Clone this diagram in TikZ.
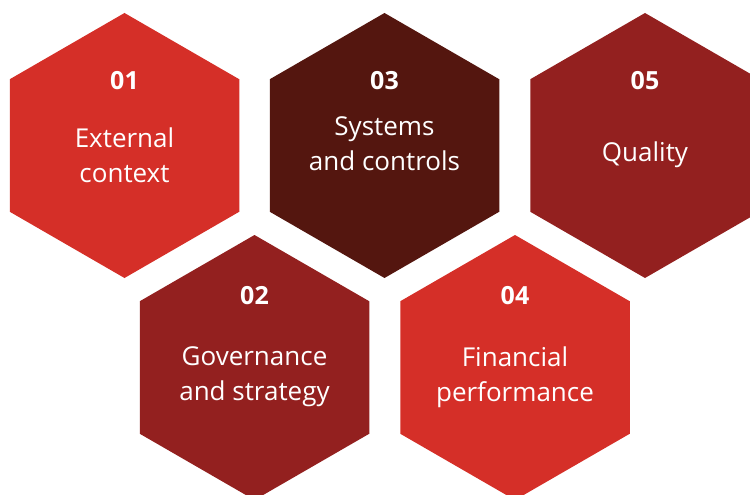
\documentclass[tikz,border=0pt]{standalone}
\usepackage{fontspec}
\setmainfont{Open Sans}
\usetikzlibrary{shapes.geometric}
\definecolor{hexred}{HTML}{D52F28}
\definecolor{hexdark}{HTML}{54160F}
\definecolor{hexwine}{HTML}{93201F}
\tikzset{
  hexcell/.style={regular polygon, regular polygon sides=6, shape border rotate=30,
    minimum size=265pt, inner sep=0pt, outer sep=0pt, fill=#1},
  hexnum/.style={text=white, font=\fontsize{25}{30}\selectfont\bfseries},
  hextext/.style={text=white, align=center, font=\fontsize{26}{35}\selectfont},
}
\begin{document}
\begin{tikzpicture}[x=1pt,y=-1pt]
        \useasboundingbox (0,0) rectangle (750,495);
        \clip (0,0) rectangle (750,495);
        % Fila superior
        \node[hexcell=hexred] (hexA) at (124.5,145.5) {};
        \node[hexnum] (numA) at (124.5,81) {01};
        \node[hextext] (txtA) at (124.5,155) {External\\context};

        \node[hexcell=hexdark] (hexC) at (384.5,145.5) {};
        \node[hexnum] (numC) at (384.5,81) {03};
        \node[hextext] (txtC) at (384.5,144) {Systems\\and controls};

        \node[hexcell=hexwine] (hexE) at (645,145.5) {};
        \node[hexnum] (numE) at (645,81) {05};
        \node[hextext] (txtE) at (645,154.5) {Quality};

        % Fila inferior
        \node[hexcell=hexwine] (hexB) at (254.5,367.5) {};
        \node[hexnum] (numB) at (254.5,296) {02};
        \node[hextext] (txtB) at (254.5,377) {Governance\\and strategy};

        \node[hexcell=hexred] (hexD) at (515,367.5) {};
        \node[hexnum] (numD) at (515,296) {04};
        \node[hextext] (txtD) at (515,377) {Financial\\performance};
    \end{tikzpicture}
\end{document}
